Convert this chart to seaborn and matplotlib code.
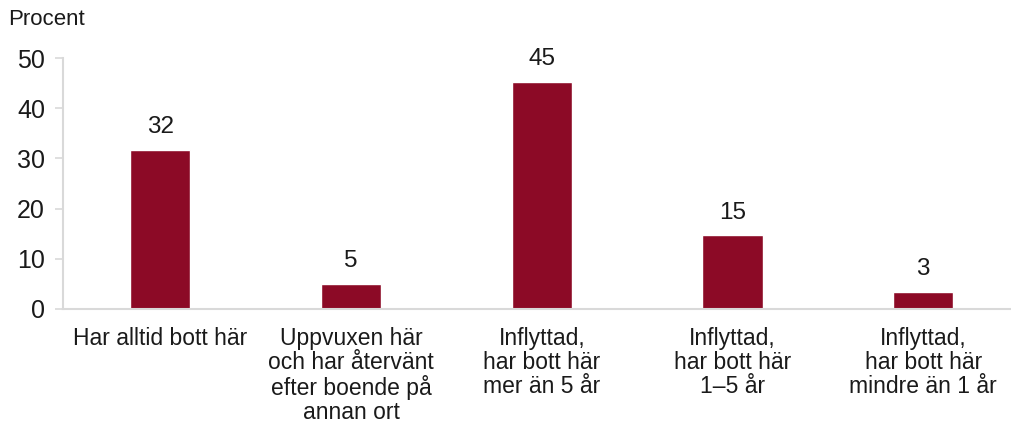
import pandas as pd
import seaborn as sns
import matplotlib.pyplot as plt

# Data.
categories = [
    "Har alltid bott här",
    "Uppvuxen här\noch har återvänt\nefter boende på\nannan ort",
    "Inflyttad,\nhar bott här\nmer än 5 år",
    "Inflyttad,\nhar bott här\n1–5 år",
    "Inflyttad,\nhar bott här\nmindre än 1 år",
]
values = [31.7, 5.0, 45.3, 14.7, 3.4]
labels = ["32", "5", "45", "15", "3"]

df = pd.DataFrame({"kategori": categories, "procent": values})

sns.set_style("white")
plt.rcParams["font.family"] = ["Liberation Sans", "DejaVu Sans"]

bar_color = "#8C0A26"
axis_color = "#D9D9D9"
text_color = "#1a1a1a"

fig = plt.figure(figsize=(10.11, 4.30), dpi=100)
ax = fig.add_axes([0.0623, 0.2814, 0.9377, 0.5837])

sns.barplot(data=df, x="kategori", y="procent", color=bar_color,
            width=0.315, saturation=1, ax=ax)

for i, (v, t) in enumerate(zip(values, labels)):
    ax.text(i, v + 2.3, t, ha="center", va="bottom", fontsize=17.5, color=text_color)

ax.set_ylim(0, 50)
ax.set_xlim(-0.51, 4.46)
ax.set_yticks([0, 10, 20, 30, 40, 50])
ax.set_xlabel("")
ax.set_ylabel("")

for side in ["top", "right"]:
    ax.spines[side].set_visible(False)
for side in ["left", "bottom"]:
    ax.spines[side].set_color(axis_color)
    ax.spines[side].set_linewidth(1.5)

ax.tick_params(axis="y", which="major", length=6, width=1.2, color=axis_color,
               labelsize=18, labelcolor=text_color, pad=7, left=True)
ax.tick_params(axis="x", length=0, labelsize=16.5, labelcolor=text_color, pad=13)
for lab in ax.get_xticklabels():
    lab.set_linespacing(1.05)

fig.text(0.008, 0.955, "Procent", fontsize=16, color=text_color, ha="left", va="center")

fig.savefig("out.png", dpi=100)
